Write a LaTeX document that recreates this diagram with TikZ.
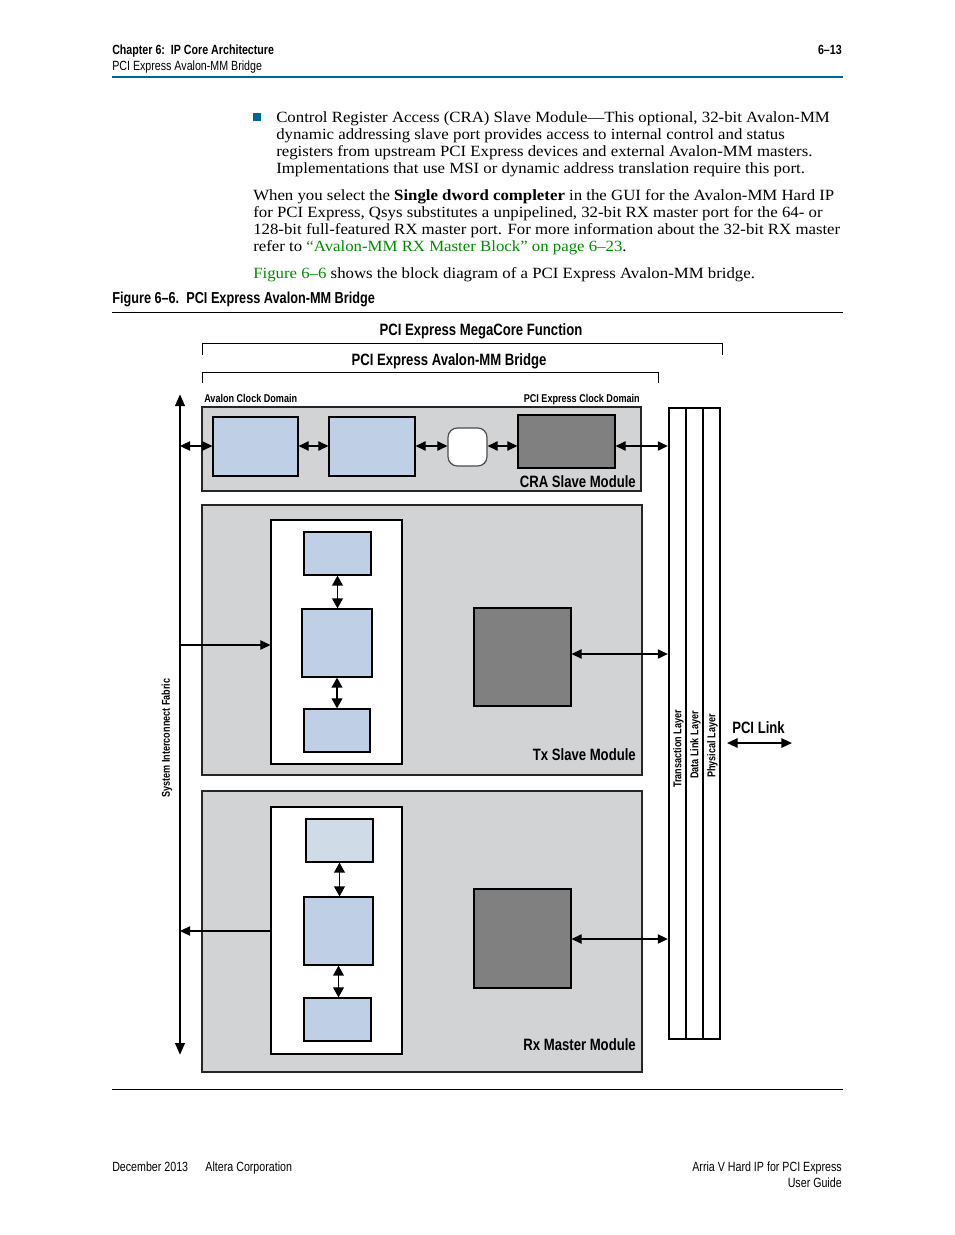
\documentclass[tikz,border=0pt]{standalone}
\usepackage{fontspec}
\setmainfont[FakeStretch=1.077]{Liberation Serif}
\newfontfamily\cond[FakeStretch=0.8]{Liberation Sans}
\usetikzlibrary{arrows.meta,fit}
\definecolor{altblue}{RGB}{0,102,153}
\definecolor{linkgreen}{RGB}{0,140,0}
\definecolor{modgray}{RGB}{209,211,212}
\definecolor{lblue}{RGB}{191,208,230}
\definecolor{llblue}{RGB}{207,219,230}
\definecolor{dgray}{RGB}{128,128,128}
\begin{document}
\begin{tikzpicture}[x=0.75pt,y=-0.75pt,
  mod/.style={draw=black!85,fill=modgray,line width=0.9pt,inner sep=0pt},
  innerbox/.style={draw=black,fill=white,line width=0.9pt,inner sep=0pt},
  bbox/.style={draw=black,fill=lblue,line width=0.9pt,inner sep=0pt},
  dbox/.style={draw=black,fill=dgray,line width=0.9pt,inner sep=0pt},
  tip/.tip={Triangle[length=7.5pt,width=7pt]},
  arr/.style={line width=0.8pt,tip-tip},
  varr/.style={line width=1.3pt,{Triangle[length=7.5pt,width=8pt]}-{Triangle[length=7.5pt,width=8pt]}},
  arrr/.style={line width=0.8pt,-tip},
  hdr/.style={font=\cond\bfseries\fontsize{10}{12}\selectfont,inner sep=0pt},
  hdrn/.style={font=\cond\fontsize{10}{12}\selectfont,inner sep=0pt},
  body/.style={font=\fontsize{11.7}{14}\selectfont,inner sep=0pt,anchor=base west},
  title/.style={font=\cond\bfseries\fontsize{12.3}{14}\selectfont,inner sep=0pt},
  small/.style={font=\cond\bfseries\fontsize{8.5}{10}\selectfont,inner sep=0pt},
]
\useasboundingbox (0,0) rectangle (954,1235);
% header
\node[hdr,anchor=base west] (h1) at (112,54.5) {Chapter 6:\ \ IP Core Architecture};
\node[hdrn,anchor=base west] (h2) at (112,70.5) {PCI Express Avalon-MM Bridge};
\node[hdr,anchor=base east] (h3) at (842,54.5) {6\textendash 13};
\draw[altblue,line width=1.6pt] (112,77) -- (843,77);
% body text
\fill[altblue] (253,113) rectangle (261,121);
\node[body] (b1) at (276,122) {Control Register Access (CRA) Slave Module---This optional, 32-bit Avalon-MM};
\node[body] (b2) at (276,139) {dynamic addressing slave port provides access to internal control and status};
\node[body] (b3) at (276,156) {registers from upstream PCI Express devices and external Avalon-MM masters.};
\node[body] (b4) at (276,173) {Implementations that use MSI or dynamic address translation require this port.};
\node[body] (p1) at (253,200) {When you select the \textbf{Single dword completer} in the GUI for the Avalon-MM Hard IP};
\node[body] (p2) at (253,217) {for PCI Express, Qsys substitutes a unpipelined, 32-bit RX master port for the 64- or};
\node[body] (p3) at (253,234) {128-bit full-featured RX master port. For more information about the 32-bit RX master};
\node[body] (p4) at (253,251) {refer to \textcolor{linkgreen}{``Avalon-MM RX Master Block'' on page 6--23}.};
\node[body] (p5) at (253,278) {\textcolor{linkgreen}{Figure 6--6} shows the block diagram of a PCI Express Avalon-MM bridge.};
% caption
\node[anchor=base west,inner sep=0pt,font=\cond\bfseries\fontsize{11.9}{13}\selectfont] (cap) at (112,303) {Figure 6\textendash 6.\ \ PCI Express Avalon-MM Bridge};
\draw[line width=0.6pt] (112,312) -- (843,312);
% brackets
\node[title] (t1) at (481,331) {PCI Express MegaCore Function};
\draw[line width=0.6pt] (202,355) -- (202,343) -- (722,343) -- (722,355);
\node[title] (t2) at (449,361) {PCI Express Avalon-MM Bridge};
\draw[line width=0.6pt] (202,383) -- (202,372) -- (658,372) -- (658,383);
% fabric
\coordinate (fabtop) at (180,394);
\coordinate (fabbot) at (180,1055);
\draw[line width=2pt,{Triangle[length=9pt,width=7pt]}-{Triangle[length=9pt,width=7pt]}] (fabtop) -- (fabbot);
\node[small,rotate=90] (fablbl) at (167,738) {System Interconnect Fabric};
% layers
\node[draw,line width=1.8pt,inner sep=0pt,fit={(669,408)(720,1039)}] (lay) {};
\draw[line width=1.5pt] (686,408) -- (686,1039);
\draw[line width=1.5pt] (703,408) -- (703,1039);
\node[small,rotate=90] (l1) at (678.5,749) {Transaction Layer};
\node[small,rotate=90] (l2) at (695.5,745) {Data Link Layer};
\node[small,rotate=90] (l3) at (712.5,746) {Physical Layer};
\node[title,anchor=base west] (pcil) at (732,733) {PCI Link};
\coordinate (pl1) at (727,743);
\coordinate (pl2) at (792,743);
\draw[line width=1.5pt,{Triangle[length=8pt,width=7pt]}-{Triangle[length=8pt,width=7pt]}] (pl1) -- (pl2);
% CRA module
\node[mod,fit={(202,407)(641,491)}] (cra) {};
\node[small,anchor=base west] (acd) at (204,402) {Avalon Clock Domain};
\node[small,anchor=base east] (pcd) at (640,402) {PCI Express Clock Domain};
\node[bbox,fit={(213,417)(298,476)}] (c1) {};
\node[bbox,fit={(329,417)(415,476)}] (c2) {};
\node[draw=black!70,fill=white,line width=0.9pt,rounded corners=7pt,inner sep=0pt,fit={(448,428)(487,466)}] (rb) {};
\node[dbox,fit={(518,415)(615,468)}] (cd) {};
\node[title,anchor=base east] (cral) at (636,487) {CRA Slave Module};
\coordinate (f1) at (180,446);
\draw[arr] (f1) -- (f1 -| c1.west);
\draw[arr] (c1.east |- f1) -- (c2.west |- f1);
\draw[arr] (c2.east |- f1) -- (rb.west |- f1);
\draw[arr] (rb.east |- f1) -- (cd.west |- f1);
\draw[arr] (cd.east |- f1) -- (lay.west |- f1);
% Tx module
\node[mod,fit={(202,505)(642,775)}] (tx) {};
\node[innerbox,fit={(271,520)(402,764)}] (ti) {};
\node[bbox,fit={(304,532)(371,575)}] (tb1) {};
\node[bbox,fit={(302,609)(372,677)}] (tb2) {};
\node[bbox,fit={(304,709)(370,752)}] (tb3) {};
\draw[varr] (tb1.south) -- (tb1.south |- tb2.north);
\draw[varr] (tb2.south) -- (tb2.south |- tb3.north);
\node[dbox,fit={(474,608)(571,706)}] (td) {};
\coordinate (tya) at (600,654);
\draw[arr] (td.east |- tya) -- (lay.west |- tya);
\coordinate (f2) at (180,645);
\draw[arrr] (f2) -- (f2 -| ti.west);
\node[title,anchor=base east] (txl) at (636,760) {Tx Slave Module};
% Rx module
\node[mod,fit={(202,791)(642,1072)}] (rx) {};
\node[innerbox,fit={(271,807)(402,1054)}] (ri) {};
\node[bbox,fill=llblue,fit={(306,819)(373,862)}] (rb1) {};
\node[bbox,fit={(304,897)(373,965)}] (rb2) {};
\node[bbox,fit={(304,998)(371,1041)}] (rb3) {};
\draw[varr] (rb1.south) -- (rb1.south |- rb2.north);
\draw[varr] (rb2.south) -- (rb2.south |- rb3.north);
\node[dbox,fit={(474,889)(571,988)}] (rd) {};
\coordinate (rya) at (600,939);
\draw[arr] (rd.east |- rya) -- (lay.west |- rya);
\coordinate (f3) at (180,931);
\draw[arrr] (f3 -| ri.west) -- (f3);
\node[title,anchor=base east] (rxl) at (636,1050) {Rx Master Module};
% bottom rule and footer
\draw[line width=0.6pt] (112,1089) -- (843,1089);
\node[hdrn,anchor=base west] (ft1) at (112,1171.5) {December 2013\hspace{1.3em}Altera Corporation};
\node[hdrn,anchor=base east] (ft2) at (842,1171.5) {Arria V Hard IP for PCI Express};
\node[hdrn,anchor=base east] (ft3) at (842,1187.5) {User Guide};
\end{tikzpicture}
\end{document}
